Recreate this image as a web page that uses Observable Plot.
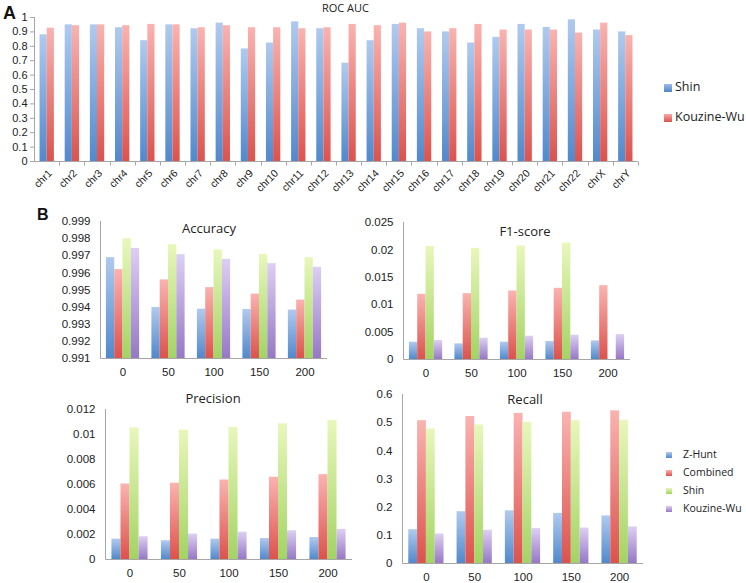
<!DOCTYPE html>
<html><head><meta charset="utf-8">
<script src="https://cdn.jsdelivr.net/npm/d3@7"></script>
<script src="https://cdn.jsdelivr.net/npm/@observablehq/plot@0.6"></script>
<style>
body{margin:0;background:#fff;}
#root{position:relative;width:746px;height:583px;overflow:hidden;font-family:"Liberation Sans",Arial,sans-serif;}
.panel{position:absolute;}
.lbl{position:absolute;font-weight:bold;font-family:"Liberation Sans",Arial,sans-serif;color:#111;}
.leg{position:absolute;font-family:"Open Sans",sans-serif;color:#222;white-space:nowrap;line-height:1;}
.sw{position:absolute;}
</style></head><body>
<svg width="0" height="0" style="position:absolute"><defs>
<linearGradient id="gBlue" x1="0" y1="0" x2="0" y2="1"><stop offset="0" stop-color="#b0caee"/><stop offset="1" stop-color="#5189cc"/></linearGradient>
<linearGradient id="gRed" x1="0" y1="0" x2="0" y2="1"><stop offset="0" stop-color="#fab3b0"/><stop offset="1" stop-color="#dd524d"/></linearGradient>
<linearGradient id="gGreen" x1="0" y1="0" x2="0" y2="1"><stop offset="0" stop-color="#e8f7bb"/><stop offset="1" stop-color="#a3d463"/></linearGradient>
<linearGradient id="gPurple" x1="0" y1="0" x2="0" y2="1"><stop offset="0" stop-color="#ddcff3"/><stop offset="1" stop-color="#9678c6"/></linearGradient>
</defs></svg>
<div id="root"></div>
<script>
// ---------- Data ----------
const chromosomes = ["chr1","chr2","chr3","chr4","chr5","chr6","chr7","chr8","chr9","chr10","chr11","chr12","chr13","chr14","chr15","chr16","chr17","chr18","chr19","chr20","chr21","chr22","chrX","chrY"];
const rocShin =       [0.880,0.949,0.949,0.929,0.839,0.949,0.922,0.961,0.782,0.823,0.970,0.922,0.683,0.839,0.952,0.922,0.900,0.823,0.862,0.952,0.931,0.984,0.913,0.900];
const rocKouzineWu =  [0.926,0.943,0.949,0.943,0.952,0.949,0.929,0.943,0.929,0.929,0.922,0.929,0.952,0.943,0.961,0.900,0.922,0.952,0.913,0.913,0.913,0.892,0.961,0.874];
const rocTicks = [0,0.1,0.2,0.3,0.4,0.5,0.6,0.7,0.8,0.9,1];
const rocSeries = ["Shin","Kouzine-Wu"];

const thresholds = ["0","50","100","150","200"];
const methods = ["Z-Hunt","Combined","Shin","Kouzine-Wu"];

const accuracyZHunt =     [0.99689,0.99398,0.99388,0.99386,0.99383];
const accuracyCombined =  [0.99619,0.99559,0.99514,0.99476,0.99441];
const accuracyShin =      [0.99799,0.99764,0.99735,0.99708,0.99689];
const accuracyKouzineWu = [0.99743,0.99706,0.99679,0.99654,0.99633];
const accuracyTicks = [0.991,0.992,0.993,0.994,0.995,0.996,0.997,0.998,0.999];

const f1ZHunt =     [0.00316,0.00285,0.00316,0.00328,0.00340];
const f1Combined =  [0.01189,0.01201,0.01250,0.01299,0.01347];
const f1Shin =      [0.02063,0.02027,0.02070,0.02124,null];
const f1KouzineWu = [0.00346,0.00388,0.00425,0.00443,0.00455];
const f1Ticks = [0,0.005,0.01,0.015,0.02,0.025];

const precisionZHunt =     [0.00163,0.00150,0.00163,0.00168,0.00176];
const precisionCombined =  [0.00604,0.00610,0.00636,0.00658,0.00679];
const precisionShin =      [0.01053,0.01035,0.01056,0.01086,0.01112];
const precisionKouzineWu = [0.00182,0.00203,0.00219,0.00230,0.00241];
const precisionTicks = [0,0.002,0.004,0.006,0.008,0.01,0.012];

const recallZHunt =     [0.120,0.184,0.187,0.178,0.169];
const recallCombined =  [0.507,0.522,0.533,0.537,0.542];
const recallShin =      [0.478,0.492,0.501,0.507,0.509];
const recallKouzineWu = [0.105,0.118,0.124,0.126,0.130];
const recallTicks = [0,0.1,0.2,0.3,0.4,0.5,0.6];

// ---------- Helpers ----------
const root = document.getElementById("root");
const trim = d => String(+(+d).toFixed(6));
const AXIS = "#a6a6a6";
const methodFill = {"Z-Hunt":"url(#gBlue)","Combined":"url(#gRed)","Shin":"url(#gGreen)","Kouzine-Wu":"url(#gPurple)"};
const methodCss = {"Z-Hunt":"linear-gradient(#b0caee,#5189cc)","Combined":"linear-gradient(#fab3b0,#dd524d)","Shin":"linear-gradient(#e8f7bb,#a3d463)","Kouzine-Wu":"linear-gradient(#ddcff3,#9678c6)"};

function place(node, left, top) {
  const d = document.createElement("div");
  d.className = "panel"; d.style.left = left + "px"; d.style.top = top + "px";
  d.appendChild(node); root.appendChild(d);
}

function axisLines(boundaries) {
  return function(...args) {
    const dims = args.find(a => a && typeof a === "object" && "marginLeft" in a && "width" in a);
    const {marginLeft: l, marginRight: r, marginTop: t, marginBottom: b, width: w, height: h} = dims;
    const g = d3.create("svg:g").attr("stroke", AXIS).attr("stroke-width", 1).attr("fill", "none");
    const x0 = Math.round(l) + 0.5, y0 = Math.round(h - b) + 0.5;
    g.append("line").attr("x1", x0).attr("x2", x0).attr("y1", t).attr("y2", y0);
    g.append("line").attr("x1", x0).attr("x2", w - r).attr("y1", y0).attr("y2", y0);
    if (boundaries) boundaries.forEach(x => {
      const xx = Math.round(x) + 0.5;
      g.append("line").attr("x1", xx).attr("x2", xx).attr("y1", y0).attr("y2", y0 + 4);
    });
    return g.node();
  };
}

// ---------- Panel A ----------
(function() {
  const W = 650, H = 200, mL = 34, mR = 12, mT = 17, mB = 39, pi = 0.43, po = 0.22;
  const inner = W - mL - mR;
  const step = inner / (chromosomes.length - pi + 2 * po);
  const bw = step * (1 - pi);
  const rows = chromosomes.map((c, i) => ({c, shin: rocShin[i], kw: rocKouzineWu[i]}));
  const boundaries = chromosomes.map((c, i) => mL + (po - pi / 2) * step + (i + 1) * step);
  const chart = Plot.plot({
    width: W, height: H, marginLeft: mL, marginRight: mR, marginTop: mT, marginBottom: mB,
    style: {fontFamily: "Liberation Sans, Arial, sans-serif", color: "#222", background: "transparent", overflow: "visible"},
    x: {type: "band", domain: chromosomes, paddingInner: pi, paddingOuter: po, align: 0.5, round: false},
    y: {domain: [0, 1]},
    marks: [
      Plot.barY(rows, {x: "c", y1: () => 0, y2: "shin", fill: "url(#gBlue)", insetRight: bw / 2}),
      Plot.barY(rows, {x: "c", y1: () => 0, y2: "kw", fill: "url(#gRed)", insetLeft: bw / 2}),
      axisLines(boundaries),
      Plot.axisY({ticks: rocTicks, tickFormat: trim, tickSize: 4, tickPadding: 3, fontSize: 11, stroke: AXIS, fill: "#222", label: null}),
      Plot.axisX({tickSize: 0, tickPadding: 10, tickRotate: -45, fontSize: 10.5, fill: "#222", label: null, dx: 3}),
      Plot.text(["ROC AUC"], {frameAnchor: "top", lineAnchor: "middle", dx: 9, dy: -9, fontSize: 11, fontFamily: "Open Sans", fill: "#222"})
    ]
  });
  place(chart, 0, 0);
})();

// ---------- Panel B ----------
function grouped(cfg) {
  const {values, domain, ticks, fmt, title, tdx, tdy, left, top, W, H, mL, mR, mT, mB, pi, po} = cfg;
  const inner = W - mL - mR;
  const step = inner / (thresholds.length - pi + 2 * po);
  const bw = step * (1 - pi);
  const sub = bw / methods.length;
  const marks = methods.map((m, k) => {
    const rows = thresholds.map((t, i) => ({t, v: values[k][i]})).filter(r => r.v != null);
    return Plot.barY(rows, {x: "t", y1: () => domain[0], y2: "v", fill: methodFill[m],
      insetLeft: k * sub, insetRight: (methods.length - 1 - k) * sub});
  });
  const chart = Plot.plot({
    width: W, height: H, marginLeft: mL, marginRight: mR, marginTop: mT, marginBottom: mB,
    style: {fontFamily: "Liberation Sans, Arial, sans-serif", color: "#222", background: "transparent", overflow: "visible"},
    x: {type: "band", domain: thresholds, paddingInner: pi, paddingOuter: po, align: 0.5, round: false},
    y: {domain},
    marks: [
      ...marks,
      axisLines(null),
      Plot.axisY({ticks, tickFormat: fmt, tickSize: 0, tickPadding: 10, fontSize: 11.5, fill: "#222", label: null}),
      Plot.axisX({tickSize: 0, tickPadding: 9, fontSize: 11.5, fill: "#222", label: null}),
      Plot.text([title], {frameAnchor: "top", lineAnchor: "middle", dx: tdx, dy: tdy, fontSize: 13, fontFamily: "Open Sans", fill: "#222"})
    ]
  });
  place(chart, left, top);
}

grouped({values: [accuracyZHunt, accuracyCombined, accuracyShin, accuracyKouzineWu], domain: [0.991, 0.999],
  ticks: accuracyTicks, fmt: d3.format(".3f"), title: "Accuracy", tdx: -5, tdy: 7,
  left: 40, top: 205, W: 300, H: 185, mL: 60, mR: 13, mT: 16, mB: 32, pi: 0.27, po: 0.13});
grouped({values: [f1ZHunt, f1Combined, f1Shin, f1KouzineWu], domain: [0, 0.025],
  ticks: f1Ticks, fmt: trim, title: "F1-score", tdx: 8, tdy: 9,
  left: 345, top: 205, W: 300, H: 185, mL: 58, mR: 15, mT: 17, mB: 31, pi: 0.27, po: 0.13});
grouped({values: [precisionZHunt, precisionCombined, precisionShin, precisionKouzineWu], domain: [0, 0.012],
  ticks: precisionTicks, fmt: trim, title: "Precision", tdx: -16, tdy: -11,
  left: 40, top: 390, W: 325, H: 193, mL: 65, mR: 13, mT: 19, mB: 24, pi: 0.27, po: 0.13});
grouped({values: [recallZHunt, recallCombined, recallShin, recallKouzineWu], domain: [0, 0.6],
  ticks: recallTicks, fmt: trim, title: "Recall", tdx: 2, tdy: 5,
  left: 345, top: 383, W: 310, H: 200, mL: 57, mR: 12, mT: 11, mB: 20, pi: 0.27, po: 0.13});

// ---------- Labels & legends ----------
function addText(cls, text, left, top, size) {
  const d = document.createElement("div");
  d.className = cls; d.textContent = text;
  d.style.left = left + "px"; d.style.top = top + "px"; d.style.fontSize = size + "px";
  root.appendChild(d); return d;
}
addText("lbl", "A", 3, 3, 18);
addText("lbl", "B", 37, 206, 16);

function swatch(left, top, size, bg) {
  const s = document.createElement("div");
  s.className = "sw"; s.style.left = left + "px"; s.style.top = top + "px";
  s.style.width = size + "px"; s.style.height = size + "px"; s.style.background = bg;
  root.appendChild(s);
}
const rocCss = ["linear-gradient(#9dbde8,#4f86c8)", "linear-gradient(#f7a8a5,#dd524d)"];
rocSeries.forEach((s, i) => {
  const y = 88 + i * 30;
  swatch(664, y - 4.5, 8, rocCss[i]);
  addText("leg", s, 675, y - 7, 12.5);
});
methods.forEach((m, i) => {
  const y = 455 + i * 18;
  swatch(666, y - 3, 6, methodCss[m]);
  addText("leg", m, 683, y - 6, 10.5);
});
</script>
</body></html>
